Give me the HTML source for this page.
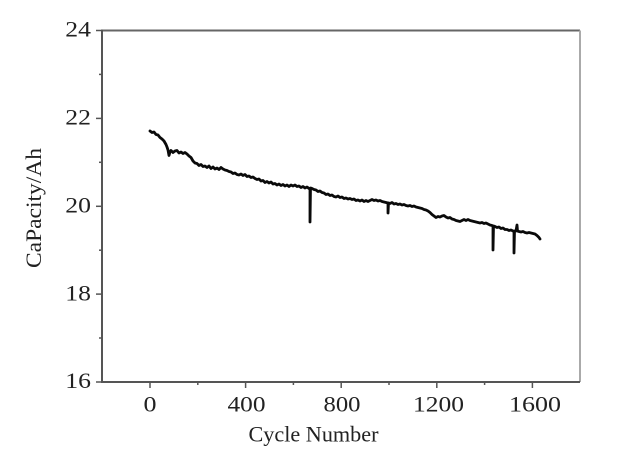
<!DOCTYPE html>
<html>
<head>
<meta charset="utf-8">
<style>
html,body{margin:0;padding:0;background:#fff;}
svg{display:block;}
text{font-family:"Liberation Serif","Times New Roman",serif;fill:#222;}
</style>
</head>
<body>
<svg width="640" height="459" viewBox="0 0 640 459" xmlns="http://www.w3.org/2000/svg">
<rect width="640" height="459" fill="#fff"/>
<line x1="102" y1="30.5" x2="580" y2="30.5" stroke="#666" stroke-width="2"/>
<line x1="580" y1="30.5" x2="580" y2="382" stroke="#aaa" stroke-width="2"/>
<line x1="102" y1="29.5" x2="102" y2="383" stroke="#555" stroke-width="2"/>
<line x1="101" y1="382" x2="580" y2="382" stroke="#555" stroke-width="2"/>
<g stroke="#555" stroke-width="1.5">
<line x1="96" y1="30.5" x2="102" y2="30.5"/>
<line x1="96" y1="118.4" x2="102" y2="118.4"/>
<line x1="96" y1="206.3" x2="102" y2="206.3"/>
<line x1="96" y1="294.1" x2="102" y2="294.1"/>
<line x1="96" y1="382" x2="102" y2="382"/>
<line x1="99" y1="74.4" x2="102" y2="74.4"/>
<line x1="99" y1="162.3" x2="102" y2="162.3"/>
<line x1="99" y1="250.2" x2="102" y2="250.2"/>
<line x1="99" y1="338" x2="102" y2="338"/>
</g>
<g stroke="#555" stroke-width="1.5">
<line x1="150" y1="382" x2="150" y2="388"/>
<line x1="245.6" y1="382" x2="245.6" y2="388"/>
<line x1="341.2" y1="382" x2="341.2" y2="388"/>
<line x1="436.8" y1="382" x2="436.8" y2="388"/>
<line x1="532.4" y1="382" x2="532.4" y2="388"/>
<line x1="197.8" y1="382" x2="197.8" y2="385"/>
<line x1="293.4" y1="382" x2="293.4" y2="385"/>
<line x1="389" y1="382" x2="389" y2="385"/>
<line x1="484.6" y1="382" x2="484.6" y2="385"/>
</g>
<g font-size="22" text-anchor="end">
<text x="91" y="36.7" textLength="25.7" lengthAdjust="spacingAndGlyphs">24</text>
<text x="91" y="124.6" textLength="25.7" lengthAdjust="spacingAndGlyphs">22</text>
<text x="91" y="212.5" textLength="25.7" lengthAdjust="spacingAndGlyphs">20</text>
<text x="91" y="300.3" textLength="25.7" lengthAdjust="spacingAndGlyphs">18</text>
<text x="91" y="388.2" textLength="25.7" lengthAdjust="spacingAndGlyphs">16</text>
</g>
<g font-size="22">
<text x="143.5" y="411.7" textLength="13" lengthAdjust="spacingAndGlyphs">0</text>
<text x="227.5" y="411.7" textLength="38" lengthAdjust="spacingAndGlyphs">400</text>
<text x="323.5" y="411.7" textLength="37" lengthAdjust="spacingAndGlyphs">800</text>
<text x="413" y="411.7" textLength="51" lengthAdjust="spacingAndGlyphs">1200</text>
<text x="509" y="411.7" textLength="52" lengthAdjust="spacingAndGlyphs">1600</text>
</g>
<text x="248.5" y="441.7" font-size="22" textLength="130" lengthAdjust="spacingAndGlyphs">Cycle Number</text>
<text transform="translate(41,268) rotate(-90)" x="0" y="0" font-size="22" textLength="120" lengthAdjust="spacingAndGlyphs">CaPacity/Ah</text>
<polyline fill="none" stroke="#0a0a0a" stroke-width="2.8" stroke-linejoin="round" stroke-linecap="round" points="
150,131 152,132.5 154,132 156,134.5 158,135 160,137.5 162,139 164,141 166,144.5 167,147 168,150 169,155.5 170,152 171,150.5 173,152.5 175,151 177,150.5 179,153 181,152 183,153.5 185,152.5 187,154 189,156 191,157.5 193,161 195,163 197,163.5 199,165.5 201,164.5 203,166.5 205,166 207,167.5 209,166 211,168.5 213,167 215,169 217,168 219,169.5 221,167.5 223,169 225,170 227,170.5 229,171.5 231,172 233,173.5 235,173 237,174.5 239,175 241,174 243,175.5 245,174.5 247,176.5 249,176 251,177.5 253,177 255,178.5 257,179.5 259,179 261,181 263,180.5 265,182.5 267,181.5 269,183 271,182 273,184 275,183.5 277,185 279,184 281,185.5 283,184.5 285,186 287,185 289,186.5 291,185 293,186 295,185 297,186.5 299,186 301,187.5 303,186.5 305,188 307,187 309,188.5 310,189 310,222 310.5,188 312,188.5 314,189.5 316,190 318,191.5 320,191 322,192.5 324,193 326,194.5 328,194 330,195.5 332,195 334,196.5 336,197 338,196 340,197.5 342,197 344,198.5 346,198 348,199 350,198.5 352,199.5 354,199 356,200.5 358,200 360,201 362,200 364,201.5 366,200.5 368,201.5 370,200.5 372,199.5 374,200.5 376,200 378,201 380,200.5 382,201.5 384,202 386,202.5 388,203 388,213 388.5,203 390,203.5 392,202.5 394,204 396,203.5 398,204.5 400,204 402,205 404,204.5 406,205.5 408,206 410,205.5 412,206.5 414,206 416,207 418,207.5 420,208 422,208.5 424,209.5 426,210 428,211 430,212.5 432,214.5 434,216 436,217.5 438,216.5 440,217 442,216 444,215.5 446,217 448,218 450,217.5 452,219 454,219.5 456,220.5 458,221 460,221.5 462,220.5 464,219.5 466,220.5 468,219.5 470,220.5 472,221 474,221.5 476,222 478,222.5 480,223 482,222.5 484,223.5 486,223 488,224 490,225 492,225.5 493,226 493,250 493.5,226 495,226.5 497,227.5 499,227 501,228.5 503,228 505,229.5 507,229.5 509,230.5 511,230 513,231 514,231 514,253 514.5,231 516,231 517,225 517.5,231 519,231.5 521,232 523,231.5 525,232.5 527,233 529,232.5 531,233 533,233.5 535,234 537,235.5 539,237.5 540,239"/>
</svg>
</body>
</html>
